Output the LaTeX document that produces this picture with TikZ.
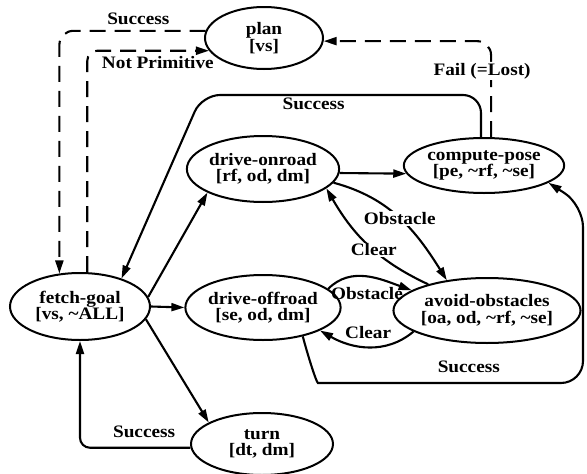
\documentclass[tikz,border=0pt]{standalone}
\usepackage{fontspec}
\setmainfont{Liberation Serif}[FakeStretch=1.1]
\usetikzlibrary{arrows.meta,shapes.geometric}

\begin{document}
\begin{tikzpicture}[x=1pt,y=1pt,
  state/.style={draw,ellipse,line width=2pt,inner sep=0pt,align=center,font=\fontsize{17.5}{16.5}\bfseries\selectfont},
  flow/.style={line width=2.1pt,-{Triangle[length=13pt,width=8pt]}},
  dashflow/.style={flow,dash pattern=on 16pt off 9pt},
  lbl/.style={font=\fontsize{17.5}{16.5}\bfseries\selectfont,inner sep=1pt}]
\useasboundingbox (0,0) rectangle (587,-474);

\node[state,minimum width=118pt,minimum height=62pt] (plan) at (264,-38) {plan\\{[vs]}};
\node[state,minimum width=140pt,minimum height=67pt] (fetch) at (80,-306.5) {fetch-goal\\{[vs, \textasciitilde ALL]}};
\node[state,minimum width=143pt,minimum height=66pt] (onroad) at (263,-169) {drive-onroad\\{[rf, od, dm]}};
\node[state,minimum width=143pt,minimum height=65pt] (offroad) at (263,-307.5) {drive-offroad\\{[se, od, dm]}};
\node[state,minimum width=143pt,minimum height=55pt] (compute) at (484,-165.5) {compute-pose\\{[pe, \textasciitilde rf, \textasciitilde se]}};
\node[state,minimum width=147pt,minimum height=65pt] (avoid) at (487,-310.5) {avoid-obstacles\\{[oa, od, \textasciitilde rf, \textasciitilde se]}};
\node[state,minimum width=142pt,minimum height=62pt] (turn) at (262,-444) {turn\\{[dt, dm]}};

\draw[dashflow,rounded corners=14pt] (plan.173) -| node[lbl,above=4pt,pos=0.23] {Success} (fetch.122);
\draw[dashflow,rounded corners=10pt] (fetch.78) |- node[lbl,below=4pt,pos=0.79] {Not Primitive} (plan.193);
\draw[dashflow,rounded corners=14pt] (compute.76) |- node[lbl,fill=white,xshift=-9pt,pos=0.345] {Fail (=Lost)} (plan.357);
\draw[flow,rounded corners=18pt] (compute.96) |- node[lbl,below=1pt,pos=0.8] {Success} (202,-95) -- (fetch.34);

\draw[flow] (fetch.8) -- (onroad.203);
\draw[flow] (fetch.east) -- (offroad.west);
\draw[flow] (fetch.349) -- (turn.158);
\draw[flow,rounded corners=10pt] (turn.183) -| node[lbl,above=8pt,pos=0.21] {Success} (fetch.south);

\draw[flow] (onroad.357) -- (compute.186);
\draw[flow] (onroad.349) to[out=-15,in=122] node[lbl,fill=white,pos=0.5] {Obstacle} (avoid.143);
\draw[flow] (avoid.156) to[out=155,in=-60] node[lbl,fill=white,pos=0.45] {Clear} (onroad.343);
\draw[flow] (offroad.16) to[out=45,in=160] node[lbl,below=9pt,pos=0.5] {Obstacle} (avoid.165);
\draw[flow] (avoid.196) to[out=220,in=-30] node[lbl,above=6pt,pos=0.5] {Clear} (offroad.338);
\draw[flow,rounded corners=22pt] (offroad.324) to[out=-75,in=180] (340,-383) -- node[lbl,above=8pt,pos=0.53] {Success} (583,-383) -- (583,-205) -- (compute.-15);
\end{tikzpicture}
\end{document}
